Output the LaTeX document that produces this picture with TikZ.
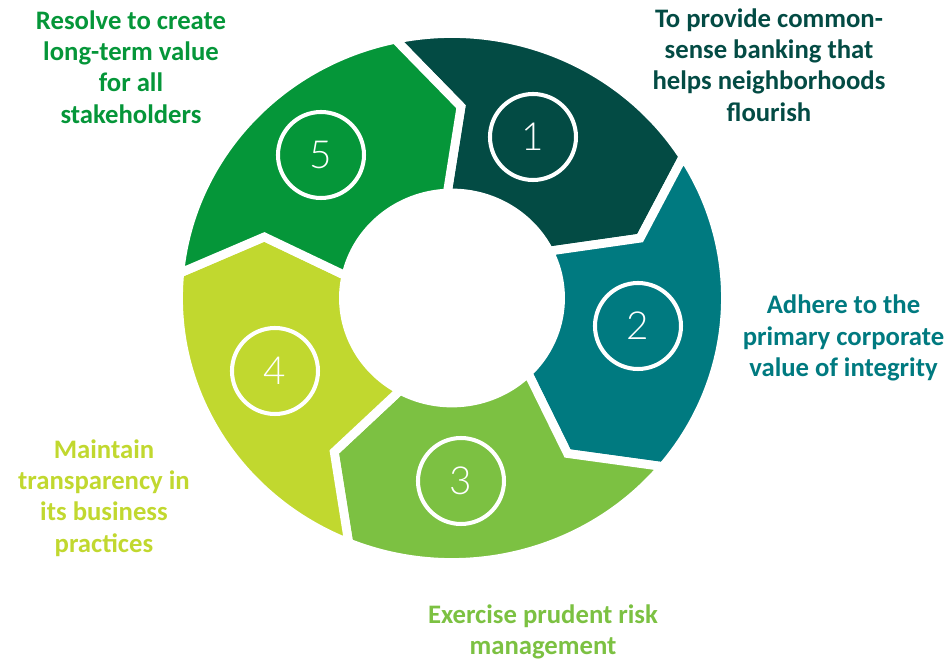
\documentclass[tikz,border=0pt]{standalone}
\usepackage{fontspec}
\setmainfont{Carlito}
\newfontfamily\numfont{Lato Light}
\usepackage{xcolor}
\usepackage{tikz}
\usetikzlibrary{positioning}

\definecolor{segA}{HTML}{034B44}
\definecolor{segB}{HTML}{007A80}
\definecolor{segC}{HTML}{7CC142}
\definecolor{segD}{HTML}{C1D82F}
\definecolor{segE}{HTML}{059639}

\newcommand{\rout}{5.29}
\newcommand{\rbend}{3.83}
\newcommand{\rin}{2.1}
% #1 colour, #2-#4 tail gap (in, out, bend), #5-#7 head gap (in, out, bend)
\newcommand{\ringpart}[7]{%
  \path[part,fill=#1] (#3:\rout) arc[start angle=#3,end angle=#6,radius=\rout]
    -- (#7:\rbend) -- (#5:\rin) arc[start angle=#5,end angle=#2,radius=\rin]
    -- (#4:\rbend) -- cycle;}

\begin{document}
\begin{tikzpicture}[
    part/.style={draw=white,line width=5pt,line join=miter},
    num/.style={circle,draw=white,line width=2.3pt,minimum size=1.72cm,
                inner sep=0pt,text=white,font=\numfont\fontsize{22}{22}\selectfont},
    goal/.style={align=center,font=\bfseries\fontsize{15.2}{17.8}\selectfont}
  ]
  \useasboundingbox (-9.04,-7.26) rectangle (9.94,5.96);

  \begin{scope}[xscale=1.034]
    \ringpart{segA}{92.5}{102}{87.4}{26.5}{32.3}{18.2}
    \ringpart{segB}{26.5}{32.3}{18.2}{-45.6}{-39.6}{-54.3}
    \ringpart{segC}{-45.6}{-39.6}{-54.3}{-118.5}{-112.2}{-126.5}
    \ringpart{segD}{-118.5}{-112.2}{-126.5}{-192.2}{-185.4}{-198.6}
    \ringpart{segE}{167.8}{174.6}{161.4}{92.5}{102}{87.4}
  \end{scope}

  \node[num] (n1) at (1.62,3.22) {1};
  \node[num] (n2) at (3.72,-0.56) {2};
  \node[num] (n3) at (0.18,-3.66) {3};
  \node[num] (n4) at (-3.54,-1.46) {4};
  \node[num] (n5) at (-2.62,2.86) {5};

  \node[goal,text=segA] (g1) at (6.34,4.66) {To provide common-\\sense banking that\\helps neighborhoods\\flourish};
  \node[goal,text=segB] (g2) at (7.83,-0.8) {Adhere to the\\primary corporate\\value of integrity};
  \node[goal,text=segC] (g3) at (1.82,-6.68) {Exercise prudent risk\\management};
  \node[goal,text=segD] (g4) at (-6.96,-4.0) {Maintain\\transparency in\\its business\\practices};
  \node[goal,text=segE] (g5) at (-6.42,4.62) {Resolve to create\\long-term value\\for all\\stakeholders};
\end{tikzpicture}
\end{document}
